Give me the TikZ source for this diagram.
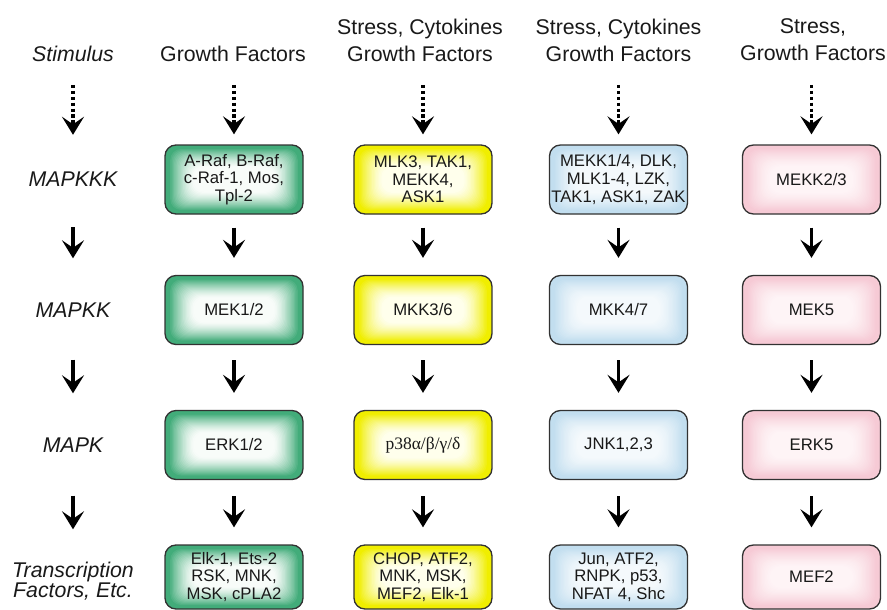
\documentclass[tikz,border=0pt]{standalone}
\usepackage{fontspec}
\setmainfont{Liberation Sans}
\newfontfamily\serifgreek{Liberation Serif}
\usetikzlibrary{arrows.meta}

\definecolor{gE}{RGB}{66,172,122}
\definecolor{gC}{RGB}{248,252,249}
\definecolor{yE}{RGB}{240,238,0}
\definecolor{yC}{RGB}{255,255,236}
\definecolor{bE}{RGB}{194,222,239}
\definecolor{bC}{RGB}{244,249,252}
\definecolor{pE}{RGB}{246,202,213}
\definecolor{pC}{RGB}{254,244,246}
\definecolor{bord}{RGB}{50,50,50}
\definecolor{ink}{RGB}{25,25,25}

\tikzset{
  box/.style={draw=bord, line width=1.3pt, rounded corners=11pt,
    minimum width=138pt, minimum height=69pt, inner sep=0.5pt, align=center,
    font=\fontsize{16.7}{17.6}\selectfont, text=ink,
    path picture={
      \foreach \k in {0,...,22}{
        \pgfmathtruncatemacro\pp{min(100,100*((22-\k)/19)^1.4)}
        \fill[#1E!\pp!#1C, rounded corners=11pt]
          ([xshift={1.3pt*\k}, yshift={-1pt*\k}]path picture bounding box.north west)
          rectangle
          ([xshift={-1.3pt*\k}, yshift={1pt*\k}]path picture bounding box.south east);
      }
    }},
  hdr/.style={anchor=north, inner sep=0pt, align=center, text=ink,
    font=\fontsize{21.3}{27}\selectfont},
  lab/.style={inner sep=0pt, minimum height=69pt, align=center, text=ink,
    font=\fontsize{21.3}{20}\selectfont\itshape},
  arr/.style={line width=3.6pt, draw=black, -{Stealth[length=18pt,width=22pt,inset=7.5pt]}},
  dotarr/.style={arr, line width=3.3pt, dash pattern=on 3.3pt off 2.6pt},
}

\begin{document}
\begin{tikzpicture}[x=1pt, y=-1pt]
\useasboundingbox (0,0) rectangle (887,610);

% headers
\node[hdr, font=\fontsize{21.3}{27}\selectfont\itshape] (H0) at (73,45.5) {Stimulus};
\node[hdr] (H1) at (233,45.5) {Growth Factors};
\node[hdr] (H2) at (420,18.5) {Stress, Cytokines\\Growth Factors};
\node[hdr] (H3) at (618.5,18.5) {Stress, Cytokines\\Growth Factors};
\node[hdr] (H4) at (813,18.5) {Stress,\\Growth Factors};

% left labels
\node[lab] (L1) at (73,179.5) {MAPKKK};
\node[lab] (L2) at (73,310) {MAPKK};
\node[lab] (L3) at (73,445) {MAPK};
\node[lab] (L4) at (73,581) {Transcription\\Factors, Etc.};

% MAPKKK row
\node[box=g] (g1) at (234,179.5) {A-Raf, B-Raf,\\c-Raf-1, Mos,\\Tpl-2};
\node[box=y] (y1) at (423,179.5) {MLK3, TAK1,\\MEKK4,\\ASK1};
\node[box=b] (b1) at (618.5,179.5) {MEKK1/4, DLK,\\MLK1-4, LZK,\\TAK1, ASK1, ZAK};
\node[box=p] (p1) at (811.5,179.5) {MEKK2/3};

% MAPKK row
\node[box=g] (g2) at (234,310) {MEK1/2};
\node[box=y] (y2) at (423,310) {MKK3/6};
\node[box=b] (b2) at (618.5,310) {MKK4/7};
\node[box=p] (p2) at (811.5,310) {MEK5};

% MAPK row
\node[box=g] (g3) at (234,445) {ERK1/2};
\node[box=y] (y3) at (423,445) {\serifgreek\fontsize{17.5}{18}\selectfont p38α/β/γ/δ};
\node[box=b] (b3) at (618.5,445) {JNK1,2,3};
\node[box=p] (p3) at (811.5,445) {ERK5};

% TF row
\node[box=g, minimum height=64pt] (g4) at (234,577) {Elk-1, Ets-2\\RSK, MNK,\\MSK, cPLA2};
\node[box=y, minimum height=64pt] (y4) at (423,577) {CHOP, ATF2,\\MNK, MSK,\\MEF2, Elk-1};
\node[box=b, minimum height=64pt] (b4) at (618.5,577) {Jun, ATF2,\\RNPK, p53,\\NFAT 4, Shc};
\node[box=p, minimum height=64pt] (p4) at (811.5,577) {MEF2};

% dotted arrows
\coordinate (s0) at (73,85);
\coordinate (s1) at (234,85);
\coordinate (s2) at (423,85);
\coordinate (s3) at (618.5,85);
\coordinate (s4) at (811.5,85);
\draw[dotarr] (s0) -- ([yshift=10pt]L1.north);
\draw[dotarr] (s1) -- ([yshift=10pt]g1.north);
\draw[dotarr] (s2) -- ([yshift=10pt]y1.north);
\draw[dotarr] (s3) -- ([yshift=10pt]b1.north);
\draw[dotarr] (s4) -- ([yshift=10pt]p1.north);

% solid arrows
\foreach \c in {L,g,y,b,p}{
  \draw[arr] ([yshift=-13pt]\c1.south) -- ([yshift=17pt]\c2.north);
  \draw[arr] ([yshift=-15pt]\c2.south) -- ([yshift=17pt]\c3.north);
  \draw[arr] ([yshift=-16pt]\c3.south) -- ([yshift=17pt]\c4.north);
}
\end{tikzpicture}
\end{document}
